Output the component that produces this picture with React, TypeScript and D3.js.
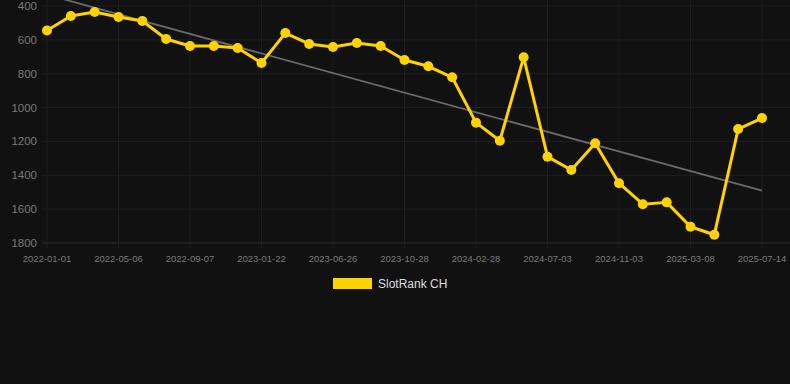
import React from "react";
import * as d3 from "d3";

const dates = [
  "2022-01-01","2022-02-11","2022-03-24","2022-05-06","2022-06-16","2022-07-27",
  "2022-09-07","2022-10-21","2022-12-07","2023-01-22","2023-03-08","2023-04-29",
  "2023-06-26","2023-08-06","2023-09-16","2023-10-28","2023-12-08","2024-01-18",
  "2024-02-28","2024-04-10","2024-05-22","2024-07-03","2024-08-14","2024-09-24",
  "2024-11-03","2024-12-15","2025-01-25","2025-03-08","2025-04-19","2025-06-01",
  "2025-07-14",
];
const ranks = [
  545, 459, 435, 465, 489, 595, 636, 636, 648, 737, 560, 624, 642, 619, 636, 719,
  756, 821, 1089, 1196, 703, 1290, 1369, 1211, 1447, 1571, 1560, 1704, 1751, 1127, 1062,
];
const yTicks = [400, 600, 800, 1000, 1200, 1400, 1600, 1800];
const trendValues = [333, 1491];
const seriesName = "SlotRank CH";

const W = 790;
const H = 384;

export default function App() {
  const x = d3.scalePoint<string>().domain(dates).range([47, 762]);
  const y = d3.scaleLinear().domain([400, 1800]).range([6, 243]);
  const line = d3
    .line<number>()
    .x((_, i) => x(dates[i]) as number)
    .y((d) => y(d));
  const labelDates = dates.filter((_, i) => i % 3 === 0);
  const gold = "#ffd200";
  return (
    <div style={{ position: "absolute", left: 0, top: 0 }}>
      <svg width={W} height={H} style={{ display: "block", background: "#111111" }}
        fontFamily="'Liberation Sans', Arial, sans-serif">
        <rect x={0} y={0} width={W} height={H} fill="#111111" />
        {yTicks.map((t) => (
          <g key={t}>
            <line x1={42} x2={790} y1={y(t)} y2={y(t)} stroke={t === 1800 ? "#2e2e2e" : "#1f1f1f"} strokeWidth={1} />
            <text x={37} y={y(t)} dy="0.35em" textAnchor="end" fontSize={11.5} fill="#7a7a7a">{t}</text>
          </g>
        ))}
        {labelDates.map((d) => (
          <g key={d}>
            <line x1={x(d)} x2={x(d)} y1={0} y2={248} stroke="#1f1f1f" strokeWidth={1} />
            <text x={x(d)} y={262} textAnchor="middle" fontSize={9.5} fill="#7a7a7a">{d}</text>
          </g>
        ))}
        <line
          x1={x(dates[0])}
          x2={x(dates[dates.length - 1])}
          y1={y(trendValues[0])}
          y2={y(trendValues[1])}
          stroke="#6a6a6a"
          strokeWidth={1.8}
        />
        <path d={line(ranks) || ""} fill="none" stroke={gold} strokeWidth={3} strokeLinejoin="round" />
        {ranks.map((v, i) => (
          <circle key={i} cx={x(dates[i])} cy={y(v)} r={5} fill={gold} />
        ))}
        <rect x={333} y={278} width={39} height={11} fill={gold} />
        <text x={378} y={284} dy="0.35em" fontSize={12} fill="#dddddd">{seriesName}</text>
      </svg>
    </div>
  );
}
